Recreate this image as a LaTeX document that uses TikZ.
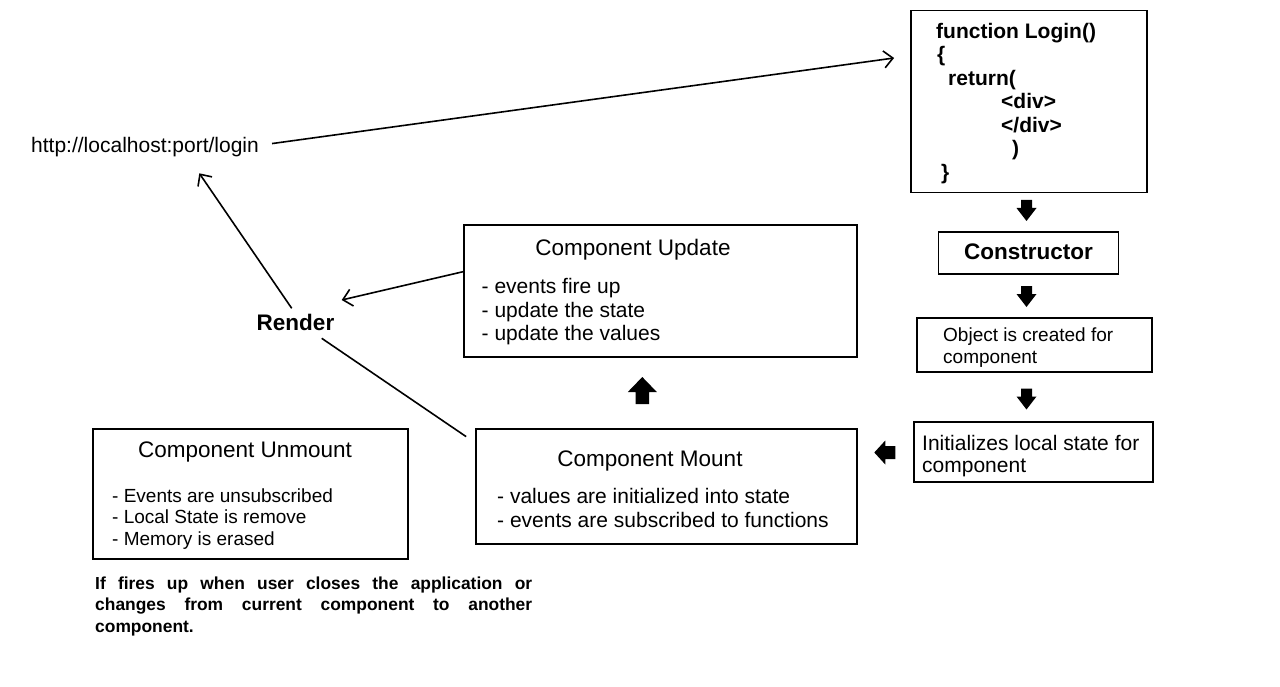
\documentclass[tikz,border=0pt]{standalone}
\usepackage{fontspec}
\setmainfont{Liberation Sans}
\usetikzlibrary{arrows.meta}
\newcommand\stacklines[2]{\vtop{\baselineskip=#1\relax\lineskiplimit=-30pt\lineskip=0pt #2}}
\begin{document}
\begin{tikzpicture}[x=1pt,y=-1pt,
  box/.style={draw, line width=1.8pt, inner sep=0pt, rectangle},
  txt/.style={inner sep=0pt, anchor=base west},
  ctxt/.style={inner sep=0pt, anchor=base},
  fbody/.style={font=\fontsize{21}{23}\selectfont},
  fsmall/.style={font=\fontsize{19}{21}\selectfont},
  ftitle/.style={font=\fontsize{22.5}{24}\selectfont},
  fbold/.style={font=\fontsize{22.5}{24}\selectfont\bfseries},
  conn/.style={line width=1.6pt},
  arr/.style={conn, -{Straight Barb[length=9pt,width=17pt,line width=1.6pt]}},
  smallarr/.pic={\fill (0,0) -- (10,13) -- (5.5,13) -- (5.5,21) -- (-5.5,21) -- (-5.5,13) -- (-10,13) -- cycle;},
  leftarr/.pic={\fill (0,0) -- (12,11) -- (6.5,11) -- (6.5,21) -- (-6.5,21) -- (-6.5,11) -- (-12,11) -- cycle;},
  bigarr/.pic={\fill (0,0) -- (14.5,15) -- (6.8,15) -- (6.8,27) -- (-6.8,27) -- (-6.8,15) -- (-14.5,15) -- cycle;}
]
\useasboundingbox[fill=white] (0,0) rectangle (1280,687);

% boxes
\node[box, minimum width=236pt, minimum height=182pt] (login) at (1029,101.5) {};
\node[box, minimum width=180pt, minimum height=42pt] (constructor) at (1028.5,253) {};
\node[box, minimum width=235pt, minimum height=54pt] (object) at (1034.5,345) {};
\node[box, minimum width=239pt, minimum height=60pt] (init) at (1033.5,452) {};
\node[box, minimum width=393pt, minimum height=132pt] (update) at (660.5,291) {};
\node[box, minimum width=381pt, minimum height=115pt] (mount) at (666.5,486.5) {};
\node[box, minimum width=315pt, minimum height=130pt] (unmount) at (250.5,494) {};

% login code
\node[txt, font=\fontsize{21}{23}\selectfont\bfseries] (code) at (936,38.5)
  {\stacklines{23.5pt}{%
    \hbox{function Login()}%
    \hbox{\hskip1pt\{}%
    \hbox{\hskip12pt return(}%
    \hbox{\hskip65pt <div>}%
    \hbox{\hskip65pt </div>}%
    \hbox{\hskip76pt )}%
    \hbox{\hskip5pt \}}}};

\node[ctxt, fbold] (constructortxt) at (1028.5,259) {Constructor};

\node[txt, fsmall] (objecttxt) at (943,341)
  {\stacklines{22pt}{\hbox{Object is created for}\hbox{component}}};

\node[txt, fbody] (inittxt) at (922,450)
  {\stacklines{22pt}{\hbox{Initializes local state for}\hbox{component}}};

\node[ctxt, ftitle] (updatetitle) at (633,255) {Component Update};
\node[txt, fbody] (updatetxt) at (481.5,294)
  {\stacklines{23.5pt}{\hbox{- events fire up}\hbox{- update the state}\hbox{- update the values}}};

\node[ctxt, ftitle] (mounttitle) at (650,466) {Component Mount};
\node[txt, fbody] (mounttxt) at (497,503)
  {\stacklines{24pt}{\hbox{- values are initialized into state}\hbox{- events are subscribed to functions}}};

\node[ctxt, ftitle] (unmounttitle) at (245,457) {Component Unmount};
\node[txt, fsmall] (unmounttxt) at (112,502)
  {\stacklines{21.7pt}{\hbox{- Events are unsubscribed}\hbox{- Local State is remove}\hbox{- Memory is erased}}};

\node[txt, font=\fontsize{17.4}{19}\selectfont\bfseries] (note) at (95,589)
  {\stacklines{21.8pt}{%
    \hbox to 437pt{If fires up when user closes the application or}%
    \hbox to 437pt{changes from current component to another}%
    \hbox{component.}}};

\node[txt, fbody] (url) at (31,153) {http://localhost:port/login};
\node[ctxt, fbold] (render) at (295.5,330) {Render};

% connector ends
\coordinate (urlout) at ([xshift=13pt,yshift=4pt]url.east);
\coordinate (loginin) at ([xshift=-16pt]login.west |- 0,58);
\coordinate (renderup) at (291.7,308.3);
\coordinate (urlin) at (199.3,173.3);
\coordinate (updateout) at ([yshift=19.3pt]update.west);
\coordinate (renderin) at (341.7,300);
\coordinate (renderdown) at (321.7,338.3);
\coordinate (mountin) at ([xshift=-9pt,yshift=-8.5pt]mount.north west);

\draw[arr] (urlout) -- (loginin);
\draw[arr] (renderup) -- (urlin);
\draw[arr] (updateout) -- (renderin);
\draw[conn] (renderdown) -- (mountin);

% block arrows
\pic[rotate=180] (a1) at (1026.5,221) {smallarr};
\pic[rotate=180] (a2) at (1026.5,307) {smallarr};
\pic[rotate=180] (a3) at (1026.5,409.5) {smallarr};
\pic[rotate=90] (a4) at (874.3,452.5) {leftarr};
\pic (a5) at (642.3,377) {bigarr};
\end{tikzpicture}
\end{document}
